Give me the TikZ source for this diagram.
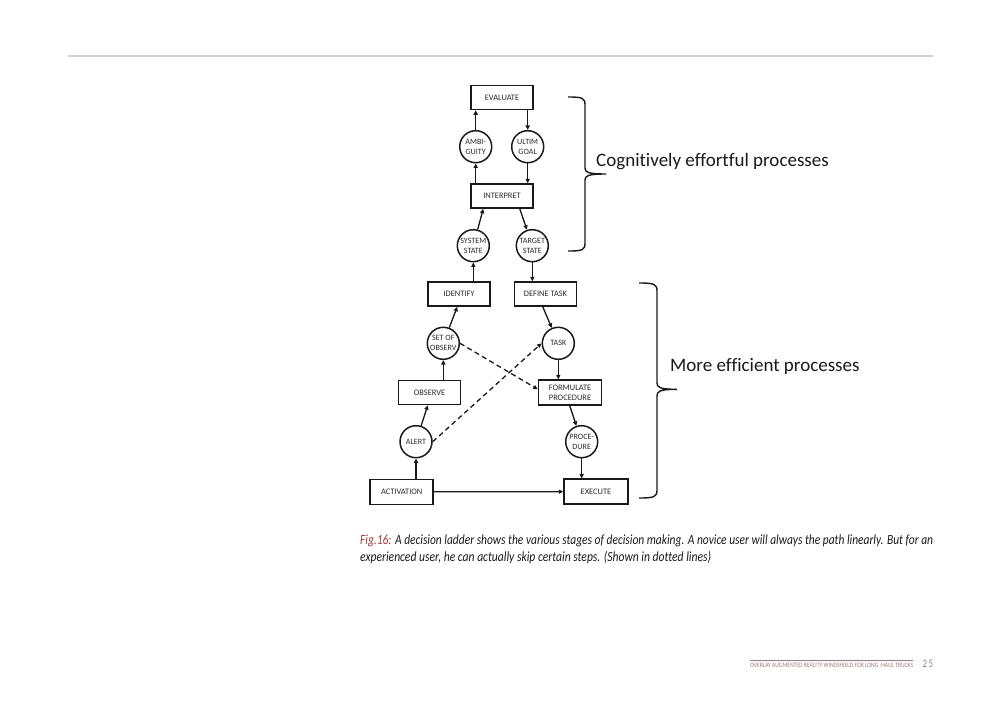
\documentclass[tikz,border=0pt]{standalone}
\usepackage{fontspec}
\setmainfont{Carlito}[Ligatures=NoCommon]
\usepackage{graphicx}
\usetikzlibrary{calc,arrows.meta}
\definecolor{capred}{HTML}{A83A3A}
\definecolor{foot}{HTML}{9C7B7B}
\definecolor{ink}{HTML}{1A1A1A}
\definecolor{txt}{HTML}{2A2A2A}
\definecolor{capink}{HTML}{1A1A1A}
\begin{document}
\begin{tikzpicture}[x=1pt,y=-1pt,
  box/.style={draw=ink, line width=1.5pt, minimum width=62pt, minimum height=24pt, inner sep=1pt, font=\fontsize{8.4}{10}\selectfont, text=txt, align=center},
  circ/.style={circle, draw=ink, line width=1.5pt, minimum size=32pt, inner sep=0pt, font=\fontsize{8.1}{10}\selectfont, text=txt, align=center},
  conn/.style={draw=ink, line width=1.3pt, -{Triangle[length=4.5pt,width=4.2pt]}},
  skip/.style={conn, dash pattern=on 5pt off 3.5pt},
  brace/.style={draw=ink, line width=1.4pt},
  bigtext/.style={anchor=base west, inner sep=0pt, font=\fontsize{19}{23}\selectfont, text=ink},
  captext/.style={anchor=base west, inner sep=0pt, font=\fontsize{14}{16}\selectfont\itshape, text=capink}
  ]
\useasboundingbox (0,0) rectangle (1000,707);
\draw[color=gray!35, line width=1.5pt] (68,56) -- (933,56);

% nodes
\node[box] (eval) at (502,97.5) {EVALUATE};
\node[circ] (ambi) at (475.7,146.7) {AMBI-\\GUITY};
\node[circ] (ultim) at (527.7,146.7) {ULTIM\\GOAL};
\node[box] (interp) at (502,196) {INTERPRET};
\node[circ] (sys) at (473.3,245.7) {SYSTEM\\STATE};
\node[circ] (target) at (532.3,245.7) {TARGET\\STATE};
\node[box] (ident) at (459,294) {IDENTIFY};
\node[box] (define) at (545.5,294) {DEFINE TASK};
\node[circ] (set) at (443.3,343.3) {SET OF\\OBSERV};
\node[circ] (task) at (558.3,343.3) {TASK};
\node[box] (obs) at (429.5,392.5) {OBSERVE};
\node[box, minimum height=25pt, minimum width=63pt] (form) at (570,392.5) {FORMULATE\\PROCEDURE};
\node[circ] (alert) at (416,441.7) {ALERT};
\node[circ] (proc) at (581.7,441.7) {PROCE-\\DURE};
\node[box, minimum height=25pt, minimum width=63pt] (act) at (401.7,491.8) {ACTIVATION};
\node[box, minimum height=25pt, minimum width=64pt] (exec) at (596,491.7) {EXECUTE};

% connectors
\draw[conn] (ambi.north) -- (ambi |- eval.south);
\draw[conn] (ultim |- eval.south) -- (ultim.north);
\draw[conn] (ambi |- interp.north) -- (ambi.south);
\draw[conn] (ultim.south) -- (ultim |- interp.north);
\draw[conn] (sys) -- ($(interp.south west)+(13,0)$);
\draw[conn] ($(interp.south east)+(-14,0)$) -- (target);
\draw[conn] (sys |- ident.north) -- (sys.south);
\draw[conn] (target.south) -- (target |- define.north);
\draw[conn] (set) -- ($(ident.south west)+(30,0)$);
\draw[conn] ($(define.south west)+(29,0)$) -- (task);
\draw[conn] (set |- obs.north) -- (set.south);
\draw[conn] (task.south) -- (task |- form.north);
\draw[conn] (alert) -- ($(obs.south west)+(30,0)$);
\draw[conn] ($(form.south west)+(32,0)$) -- (proc);
\draw[conn] (alert |- act.north) -- (alert.south);
\draw[conn] (proc.south) -- (proc |- exec.north);
\draw[conn] (act.east) -- (exec.west);
\draw[skip] (set.east) -- ($(form.north west)+(0,10)$);
\draw[skip] (alert.east) -- (task.west);

% braces
\draw[brace] (568,97) .. controls (583,97) and (585,98) .. (585,105) -- (585,168)
  .. controls (585,172) and (587,174) .. (606,174)
  .. controls (587,174) and (585,176) .. (585,180) -- (585,243)
  .. controls (585,250) and (583,251) .. (568,251);
\draw[brace] (639,283) .. controls (654,283) and (657,284) .. (657,291) -- (657,383)
  .. controls (657,387) and (659,389.3) .. (677,389.3)
  .. controls (659,389.3) and (657,391.5) .. (657,396) -- (657,490)
  .. controls (657,497) and (654,498) .. (639,498);
\node[bigtext] (t1) at (596,166) {Cognitively effortful processes};
\node[bigtext] (t2) at (670,371.7) {More efficient processes};

% caption
\node[captext] (cap1) at (360,544.5) {\resizebox{573pt}{\height}{\textcolor{capred}{Fig.16:} A decision ladder shows the various stages of decision making. A novice user will always the path linearly. But for an}};
\node[captext] (cap2) at (360,561) {\resizebox{351pt}{\height}{experienced user, he can actually skip certain steps. (Shown in dotted lines)}};

% footer
\draw[foot, line width=0.8pt] (750,660.5) -- (913,660.5);
\node[anchor=west, inner sep=0pt, font=\fontsize{6.8}{8}\selectfont, text=foot] (foottext) at (750,665) {\resizebox{163pt}{\height}{OVERLAY AUGMENTED REALITY WINDSHIELD FOR LONG -HAUL TRUCKS}};
\node[anchor=west, inner sep=0pt, font=\fontsize{11.5}{12}\selectfont, text=foot] (page) at (922.5,664) {\resizebox{10.5pt}{\height}{2\,5}};
\end{tikzpicture}
\end{document}
